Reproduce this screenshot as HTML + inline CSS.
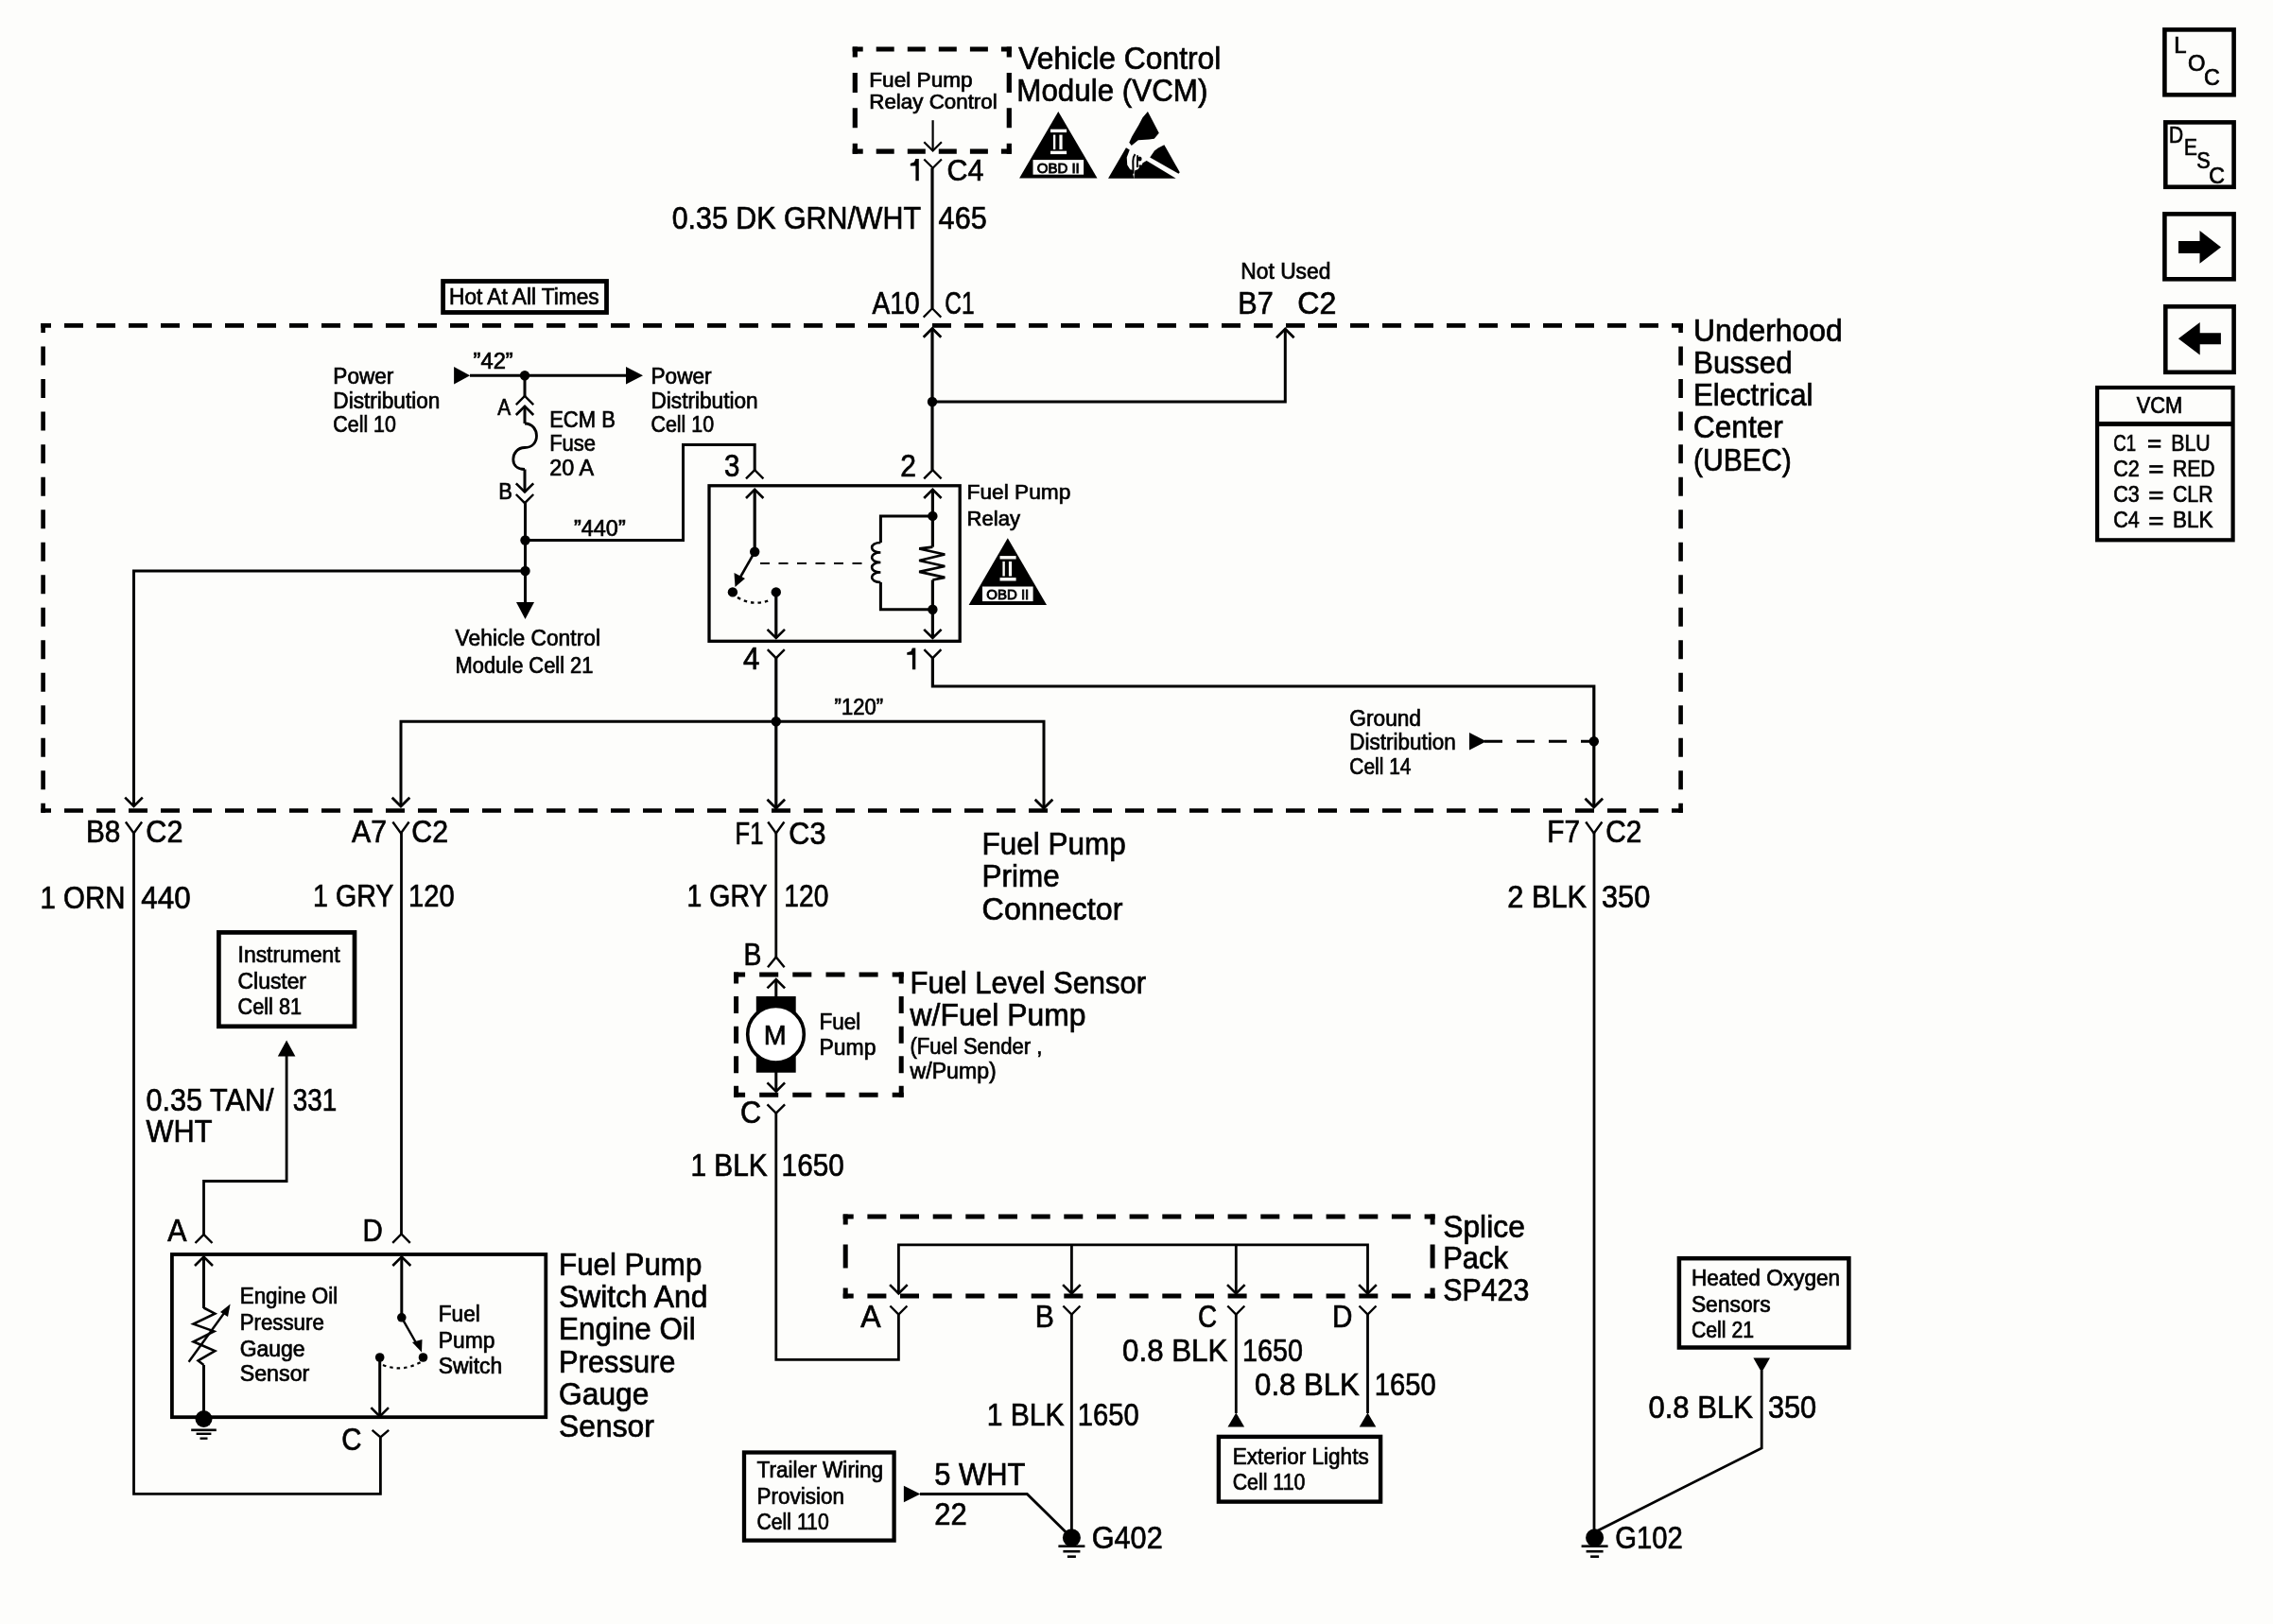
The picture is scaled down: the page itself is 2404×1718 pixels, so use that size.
<!DOCTYPE html>
<html><head><meta charset="utf-8"><style>
html,body{margin:0;padding:0;background:#fdfdfb;}
svg{display:block;will-change:transform;}
svg line,svg polyline,svg path,svg rect,svg circle{stroke:#000;fill:none;stroke-linecap:butt;stroke-linejoin:miter;}
svg .fl{fill:#000;stroke:none;}
svg .wf{fill:#fff;}
svg .wh{fill:#fdfdfb;stroke:none;}
svg text{font-family:"Liberation Sans",sans-serif;fill:#000;stroke:#000;stroke-width:0.7px;}
</style></head><body>
<svg width="2404" height="1718" viewBox="0 0 2404 1718">
<path d="M901.7,52H912.7 M1058.9,52H1069.9 M926.7,52H945.7 M959.8,52H978.8 M992.8,52H1011.8 M1025.9,52H1044.9" stroke-width="5.2" />
<path d="M901.7,160.2H912.7 M1058.9,160.2H1069.9 M926.7,160.2H945.7 M959.8,160.2H978.8 M992.8,160.2H1011.8 M1025.9,160.2H1044.9" stroke-width="5.2" />
<path d="M904.3,49.4V60.4 M904.3,151.8V162.8 M904.3,76.9V97.9 M904.3,114.3V135.3" stroke-width="5.2" />
<path d="M1067.3,49.4V60.4 M1067.3,151.8V162.8 M1067.3,76.9V97.9 M1067.3,114.3V135.3" stroke-width="5.2" />
<text x="919.30" y="92.2" font-size="21.5" textLength="109.31" lengthAdjust="spacingAndGlyphs">Fuel Pump</text>
<text x="919.30" y="115.4" font-size="21.5" textLength="135.40" lengthAdjust="spacingAndGlyphs">Relay Control</text>
<line x1="986.6" y1="127.2" x2="986.6" y2="159.5" stroke-width="2.2"/>
<polyline points="977.3,150.2 986.6,159.5 995.9,150.2" stroke-width="2.2"/>
<polyline points="977.3,168.5 986.6,177.8 995.9,168.5" stroke-width="2.2"/>
<text x="1077.30" y="72.7" font-size="32.3" textLength="214.10" lengthAdjust="spacingAndGlyphs">Vehicle Control</text>
<text x="1075.30" y="106.7" font-size="32.3" textLength="202.10" lengthAdjust="spacingAndGlyphs">Module (VCM)</text>
<polygon class="fl" points="968.4,168.1 971.8,168.1 971.8,191.2 968.4,191.2 968.4,175.5 962.8,175.5 962.8,173 966.9,171.6"/>
<text x="1001.60" y="191.2" font-size="32" textLength="38.91" lengthAdjust="spacingAndGlyphs">C4</text>
<polygon class="fl" points="1119.3,117.9 1078.1,188.6 1160.5,188.6"/>
<rect class="wh" x="1111" y="136.7" width="17.1" height="3.4"/>
<rect class="wh" x="1111" y="159.7" width="17.1" height="3.4"/>
<rect class="wh" x="1113.9" y="142.6" width="2.4" height="15.5"/>
<rect class="wh" x="1120.4" y="142.6" width="3.2" height="15.5"/>
<rect class="wh" x="1092.5" y="169.1" width="53.6" height="15.6"/>
<text x="1119.3" y="182.8" font-size="15.5" text-anchor="middle" textLength="45" lengthAdjust="spacingAndGlyphs" style="stroke-width:0.9px">OBD II</text>
<g transform="translate(1168,112) scale(0.05048)">
<polygon class="fl" points="910,120 1145,570 1045,690 940,705 710,720 570,830 520,770 580,640 720,400 800,250"/>
<polygon class="fl" points="1255,815 1580,1390 1555,1420 955,1080 1050,940 1130,880"/>
<polygon class="fl" points="80,1520 455,875 530,920 470,1080 480,1240 540,1330 590,1340 600,1430 620,1520"/>
<polygon class="fl" points="620,1520 640,1350 700,1330 730,1300 720,1240 790,1240 800,1200 885,1150 1500,1520"/>
<path d="M645,1015 C610,1060 600,1100 600,1160 L605,1420" stroke-width="40"/>
<path d="M695,1035 L690,1290" stroke-width="36"/>
<ellipse class="fl" cx="740" cy="1110" rx="45" ry="50"/>
</g>
<line x1="986" y1="177.8" x2="986" y2="326.3" stroke-width="3.2"/>
<text x="710.70" y="242.3" font-size="33.2" textLength="263.30" lengthAdjust="spacingAndGlyphs">0.35 DK GRN/WHT</text>
<text x="992.60" y="242.3" font-size="33.2" textLength="51.11" lengthAdjust="spacingAndGlyphs">465</text>
<polyline points="976.7,335.6 986,326.3 995.3,335.6" stroke-width="2.2"/>
<text x="922.50" y="331.5" font-size="32.3" textLength="50.01" lengthAdjust="spacingAndGlyphs">A10</text>
<text x="999.30" y="331.5" font-size="32.3" textLength="31.31" lengthAdjust="spacingAndGlyphs">C1</text>
<text x="1312.30" y="295" font-size="23.3" textLength="95.11" lengthAdjust="spacingAndGlyphs">Not Used</text>
<text x="1309.30" y="331.7" font-size="32.3" textLength="37.40" lengthAdjust="spacingAndGlyphs">B7</text>
<text x="1372.30" y="331.7" font-size="32.3" textLength="41.11" lengthAdjust="spacingAndGlyphs">C2</text>
<rect x="468.6" y="297.5" width="172.9" height="33" stroke-width="4.8"/>
<text x="475.10" y="321.7" font-size="23.3" textLength="158.51" lengthAdjust="spacingAndGlyphs">Hot At All Times</text>
<path d="M43.3,344.4H54 M68,344.4H88 M102,344.4H122 M136,344.4H156 M170,344.4H190 M204,344.4H224 M238,344.4H258 M272,344.4H292 M306,344.4H326 M340,344.4H360 M374,344.4H394 M408,344.4H428 M442,344.4H462 M476,344.4H496 M510,344.4H530 M544,344.4H564 M578,344.4H598 M612,344.4H632 M646,344.4H666 M680,344.4H700 M714,344.4H734 M748,344.4H768 M782,344.4H802 M816,344.4H836 M850,344.4H870 M884,344.4H904 M918,344.4H938 M952,344.4H972 M986,344.4H1006 M1020,344.4H1040 M1054,344.4H1074 M1088,344.4H1108 M1122,344.4H1142 M1156,344.4H1176 M1190,344.4H1210 M1224,344.4H1244 M1258,344.4H1278 M1292,344.4H1312 M1326,344.4H1346 M1360,344.4H1380 M1394,344.4H1414 M1428,344.4H1448 M1462,344.4H1482 M1496,344.4H1516 M1530,344.4H1550 M1564,344.4H1584 M1598,344.4H1618 M1632,344.4H1652 M1666,344.4H1686 M1700,344.4H1720 M1734,344.4H1754 M1768,344.4H1779.9" stroke-width="4.6" />
<path d="M43.3,857.5H54 M68,857.5H88 M102,857.5H122 M136,857.5H156 M170,857.5H190 M204,857.5H224 M238,857.5H258 M272,857.5H292 M306,857.5H326 M340,857.5H360 M374,857.5H394 M408,857.5H428 M442,857.5H462 M476,857.5H496 M510,857.5H530 M544,857.5H564 M578,857.5H598 M612,857.5H632 M646,857.5H666 M680,857.5H700 M714,857.5H734 M748,857.5H768 M782,857.5H802 M816,857.5H836 M850,857.5H870 M884,857.5H904 M918,857.5H938 M952,857.5H972 M986,857.5H1006 M1020,857.5H1040 M1054,857.5H1074 M1088,857.5H1108 M1122,857.5H1142 M1156,857.5H1176 M1190,857.5H1210 M1224,857.5H1244 M1258,857.5H1278 M1292,857.5H1312 M1326,857.5H1346 M1360,857.5H1380 M1394,857.5H1414 M1428,857.5H1448 M1462,857.5H1482 M1496,857.5H1516 M1530,857.5H1550 M1564,857.5H1584 M1598,857.5H1618 M1632,857.5H1652 M1666,857.5H1686 M1700,857.5H1720 M1734,857.5H1754 M1768,857.5H1779.9" stroke-width="4.6" />
<path d="M45.6,342.1V352.1 M45.6,849.8V859.8 M45.6,366.6V386.6 M45.6,401.1V421.1 M45.6,435.6V455.6 M45.6,470.2V490.2 M45.6,504.7V524.7 M45.6,539.2V559.2 M45.6,573.7V593.7 M45.6,608.2V628.2 M45.6,642.7V662.7 M45.6,677.2V697.2 M45.6,711.7V731.7 M45.6,746.3V766.3 M45.6,780.8V800.8 M45.6,815.3V835.3" stroke-width="4.6" />
<path d="M1777.6,342.1V352.1 M1777.6,849.8V859.8 M1777.6,366.6V386.6 M1777.6,401.1V421.1 M1777.6,435.6V455.6 M1777.6,470.2V490.2 M1777.6,504.7V524.7 M1777.6,539.2V559.2 M1777.6,573.7V593.7 M1777.6,608.2V628.2 M1777.6,642.7V662.7 M1777.6,677.2V697.2 M1777.6,711.7V731.7 M1777.6,746.3V766.3 M1777.6,780.8V800.8 M1777.6,815.3V835.3" stroke-width="4.6" />
<text x="1791.00" y="360.7" font-size="32.3" textLength="157.71" lengthAdjust="spacingAndGlyphs">Underhood</text>
<text x="1791.00" y="395" font-size="32.3" textLength="104.71" lengthAdjust="spacingAndGlyphs">Bussed</text>
<text x="1791.00" y="429.3" font-size="32.3" textLength="126.39" lengthAdjust="spacingAndGlyphs">Electrical</text>
<text x="1791.00" y="463.3" font-size="32.3" textLength="94.72" lengthAdjust="spacingAndGlyphs">Center</text>
<text x="1791.00" y="497.7" font-size="32.3" textLength="103.71" lengthAdjust="spacingAndGlyphs">(UBEC)</text>
<text x="352.30" y="406.2" font-size="23.3" textLength="64.09" lengthAdjust="spacingAndGlyphs">Power</text>
<text x="352.30" y="431.5" font-size="23.3" textLength="113.10" lengthAdjust="spacingAndGlyphs">Distribution</text>
<text x="352.30" y="457.3" font-size="23.3" textLength="66.60" lengthAdjust="spacingAndGlyphs">Cell 10</text>
<text x="688.50" y="406.2" font-size="23.3" textLength="64.09" lengthAdjust="spacingAndGlyphs">Power</text>
<text x="688.50" y="431.5" font-size="23.3" textLength="113.10" lengthAdjust="spacingAndGlyphs">Distribution</text>
<text x="688.50" y="457.3" font-size="23.3" textLength="66.60" lengthAdjust="spacingAndGlyphs">Cell 10</text>
<polygon class="fl" points="480.1,388.1 480.1,406.5 497.1,397.3"/>
<line x1="497" y1="397.3" x2="665" y2="397.3" stroke-width="3"/>
<polygon class="fl" points="662,388.1 662,406.5 680,397.3"/>
<circle class="fl" cx="555" cy="397.3" r="5.2"/>
<text x="500.60" y="390" font-size="23.3" textLength="42.11" lengthAdjust="spacingAndGlyphs">”42”</text>
<line x1="555" y1="397.3" x2="555" y2="419" stroke-width="3"/>
<polyline points="545.8,428.2 555,419 564.2,428.2" stroke-width="2.4"/>
<polyline points="545.8,439 555,429.8 564.2,439" stroke-width="2.6"/>
<line x1="555" y1="429.8" x2="555" y2="448" stroke-width="3"/>
<path d="M555,448 C563.5,448 567.5,455 567.5,461 C567.5,468 563,473.5 555,473.5 C547,473.5 542.8,480 542.8,486 C542.8,492 547,496.5 555,496.5" stroke-width="2.8" />
<line x1="555" y1="496.5" x2="555" y2="520.5" stroke-width="3"/>
<polyline points="545.8,511.3 555,520.5 564.2,511.3" stroke-width="2.6"/>
<polyline points="545.8,523 555,532.2 564.2,523" stroke-width="2.4"/>
<text x="526.30" y="439" font-size="23" textLength="13.90" lengthAdjust="spacingAndGlyphs">A</text>
<text x="527.20" y="528" font-size="23" textLength="14.70" lengthAdjust="spacingAndGlyphs">B</text>
<text x="581.20" y="451.5" font-size="23.3" textLength="69.60" lengthAdjust="spacingAndGlyphs">ECM B</text>
<text x="581.20" y="477.2" font-size="23.3" textLength="48.80" lengthAdjust="spacingAndGlyphs">Fuse</text>
<text x="581.20" y="503" font-size="23.3" textLength="46.80" lengthAdjust="spacingAndGlyphs">20 A</text>
<line x1="555.5" y1="530.5" x2="555.5" y2="640" stroke-width="3"/>
<polygon class="fl" points="546,637 565,637 555.5,655"/>
<circle class="fl" cx="555.5" cy="571.5" r="5.2"/>
<circle class="fl" cx="555.5" cy="604" r="5.2"/>
<polyline points="555.5,571.5 722.5,571.5 722.5,470.4 798.2,470.4 798.2,497.1" stroke-width="3"/>
<text x="607.00" y="567" font-size="23.3" textLength="54.69" lengthAdjust="spacingAndGlyphs">”440”</text>
<polyline points="555.5,604 141.5,604 141.5,853" stroke-width="3"/>
<polyline points="132.2,843.7 141.5,853 150.8,843.7" stroke-width="2.6"/>
<text x="481.60" y="683.3" font-size="23.3" textLength="153.40" lengthAdjust="spacingAndGlyphs">Vehicle Control</text>
<text x="481.60" y="711.7" font-size="23.3" textLength="145.81" lengthAdjust="spacingAndGlyphs">Module Cell 21</text>
<line x1="986" y1="347.4" x2="986" y2="497.1" stroke-width="3.2"/>
<polyline points="976.7,356.7 986,347.4 995.3,356.7" stroke-width="2.8"/>
<circle class="fl" cx="986" cy="425" r="5.2"/>
<polyline points="986,425 1359.3,425 1359.3,348" stroke-width="3"/>
<polyline points="1350,357.3 1359.3,348 1368.6,357.3" stroke-width="2.8"/>
<rect x="750" y="513.8" width="265.2" height="164.5" stroke-width="3.3"/>
<polyline points="789,506.3 798.2,497.1 807.4,506.3" stroke-width="2.4"/>
<polyline points="977.2,506.3 986.4,497.1 995.6,506.3" stroke-width="2.4"/>
<text x="766.00" y="504" font-size="32.3" textLength="16.40" lengthAdjust="spacingAndGlyphs">3</text>
<text x="952.30" y="504" font-size="32.3" textLength="16.70" lengthAdjust="spacingAndGlyphs">2</text>
<line x1="798.2" y1="517.8" x2="798.2" y2="583.8" stroke-width="3.2"/>
<polyline points="789,527 798.2,517.8 807.4,527" stroke-width="2.6"/>
<circle class="fl" cx="798.2" cy="583.8" r="5.2"/>
<line x1="798.2" y1="583.8" x2="781" y2="614" stroke-width="2.6"/>
<polygon class="fl" points="777.5,621 776.5,606 788,612"/>
<circle class="fl" cx="774.9" cy="626.4" r="5.2"/>
<path d="M780,632 Q797,642 815,634.5" stroke-width="2.4" stroke-dasharray="3.5 4"/>
<circle class="fl" cx="820.8" cy="626.4" r="5.2"/>
<line x1="820.8" y1="626.4" x2="820.8" y2="675" stroke-width="3.2"/>
<polyline points="811.6,665.8 820.8,675 830,665.8" stroke-width="2.6"/>
<path d="M804,596 H912" stroke-width="2.2" stroke-dasharray="10 9.5"/>
<polyline points="986.4,545.9 931.4,545.9 931.4,574" stroke-width="3"/>
<polyline points="931.4,616 931.4,644.8 986.4,644.8" stroke-width="3"/>
<path d="M931.4,574 C919,574 919,584.5 931.4,584.5 C919,584.5 919,595 931.4,595 C919,595 919,605.5 931.4,605.5 C919,605.5 919,616 931.4,616" stroke-width="2.6" />
<circle class="fl" cx="986.4" cy="545.9" r="5.2"/>
<circle class="fl" cx="986.4" cy="644.8" r="5.2"/>
<line x1="986.4" y1="517.8" x2="986.4" y2="578.6" stroke-width="3.2"/>
<polyline points="986.4,578.6 972.2,580.5 999.3,586.5 972.2,593 999.3,599 972.2,604.8 999.3,610.8 986.4,613.5" stroke-width="2.8"/>
<line x1="986.4" y1="613.5" x2="986.4" y2="675" stroke-width="3.2"/>
<polyline points="977.2,527 986.4,517.8 995.6,527" stroke-width="2.6"/>
<polyline points="977.2,665.8 986.4,675 995.6,665.8" stroke-width="2.6"/>
<polyline points="811.8,687.2 820.8,696.2 829.8,687.2" stroke-width="2.4"/>
<polyline points="977.4,687.2 986.4,696.2 995.4,687.2" stroke-width="2.4"/>
<text x="786.00" y="708.3" font-size="32.3" textLength="17.40" lengthAdjust="spacingAndGlyphs">4</text>
<polygon class="fl" points="964.9,685.5 968.3,685.5 968.3,708.3 964.9,708.3 964.9,692.8 959.3,692.8 959.3,690.3 963.4,688.9"/>
<text x="1022.60" y="527.8" font-size="22.6" textLength="109.81" lengthAdjust="spacingAndGlyphs">Fuel Pump</text>
<text x="1022.60" y="555.8" font-size="22.6" textLength="56.39" lengthAdjust="spacingAndGlyphs">Relay</text>
<polygon class="fl" points="1065.8,569.3 1024.6,640 1107,640"/>
<rect class="wh" x="1057.5" y="588.1" width="17.1" height="3.4"/>
<rect class="wh" x="1057.5" y="611.1" width="17.1" height="3.4"/>
<rect class="wh" x="1060.4" y="594" width="2.4" height="15.5"/>
<rect class="wh" x="1066.9" y="594" width="3.2" height="15.5"/>
<rect class="wh" x="1039" y="620.5" width="53.6" height="15.6"/>
<text x="1065.8" y="634.2" font-size="15.5" text-anchor="middle" textLength="45" lengthAdjust="spacingAndGlyphs" style="stroke-width:0.9px">OBD II</text>
<line x1="820.8" y1="696" x2="820.8" y2="855" stroke-width="3.2"/>
<polyline points="811.5,845.7 820.8,855 830.1,845.7" stroke-width="2.8"/>
<circle class="fl" cx="820.8" cy="763.3" r="5.2"/>
<polyline points="424,853 424,763.3 1104,763.3 1104,855" stroke-width="3"/>
<polyline points="414.7,843.7 424,853 433.3,843.7" stroke-width="2.8"/>
<polyline points="1094.7,845.7 1104,855 1113.3,845.7" stroke-width="2.8"/>
<text x="882.60" y="756" font-size="23.3" textLength="51.39" lengthAdjust="spacingAndGlyphs">”120”</text>
<polyline points="986.4,696 986.4,726 1685.8,726 1685.8,854" stroke-width="3.2"/>
<polyline points="1676.5,844.7 1685.8,854 1695.1,844.7" stroke-width="2.8"/>
<path d="M1570,784.2 H1685.8" stroke-width="3" stroke-dasharray="19 15"/>
<polygon class="fl" points="1554,775 1554,793.4 1572,784.2"/>
<circle class="fl" cx="1685.8" cy="784.2" r="5.2"/>
<text x="1427.30" y="767.5" font-size="23.3" textLength="75.71" lengthAdjust="spacingAndGlyphs">Ground</text>
<text x="1427.30" y="792.6" font-size="23.3" textLength="112.40" lengthAdjust="spacingAndGlyphs">Distribution</text>
<text x="1427.30" y="818.5" font-size="23.3" textLength="65.20" lengthAdjust="spacingAndGlyphs">Cell 14</text>
<polyline points="132.9,869.5 141.5,881.5 150.1,869.5" stroke-width="2.4"/>
<text x="91.00" y="891" font-size="32.3" textLength="36.40" lengthAdjust="spacingAndGlyphs">B8</text>
<text x="154.30" y="891" font-size="32.3" textLength="39.11" lengthAdjust="spacingAndGlyphs">C2</text>
<polyline points="415.4,869.5 424,881.5 432.6,869.5" stroke-width="2.4"/>
<text x="372.00" y="891" font-size="32.3" textLength="37.00" lengthAdjust="spacingAndGlyphs">A7</text>
<text x="435.30" y="891" font-size="32.3" textLength="38.71" lengthAdjust="spacingAndGlyphs">C2</text>
<polyline points="812.2,869.5 820.8,881.5 829.4,869.5" stroke-width="2.4"/>
<text x="777.60" y="892.7" font-size="32.3" textLength="29.80" lengthAdjust="spacingAndGlyphs">F1</text>
<text x="834.30" y="892.7" font-size="32.3" textLength="39.11" lengthAdjust="spacingAndGlyphs">C3</text>
<polyline points="1677.2,869.5 1685.8,881.5 1694.4,869.5" stroke-width="2.4"/>
<text x="1636.30" y="891.3" font-size="32.3" textLength="34.70" lengthAdjust="spacingAndGlyphs">F7</text>
<text x="1698.30" y="891.3" font-size="32.3" textLength="38.11" lengthAdjust="spacingAndGlyphs">C2</text>
<text x="42.60" y="960.7" font-size="33.2" textLength="89.80" lengthAdjust="spacingAndGlyphs">1 ORN</text>
<text x="149.30" y="960.7" font-size="33.2" textLength="52.41" lengthAdjust="spacingAndGlyphs">440</text>
<text x="331.00" y="959.3" font-size="33.2" textLength="85.40" lengthAdjust="spacingAndGlyphs">1 GRY</text>
<text x="432.00" y="959.3" font-size="33.2" textLength="48.71" lengthAdjust="spacingAndGlyphs">120</text>
<text x="726.60" y="959.3" font-size="33.2" textLength="84.80" lengthAdjust="spacingAndGlyphs">1 GRY</text>
<text x="829.30" y="959.3" font-size="33.2" textLength="47.11" lengthAdjust="spacingAndGlyphs">120</text>
<text x="1594.30" y="960.4" font-size="33.2" textLength="83.80" lengthAdjust="spacingAndGlyphs">2 BLK</text>
<text x="1694.00" y="960.4" font-size="33.2" textLength="51.31" lengthAdjust="spacingAndGlyphs">350</text>
<text x="1038.60" y="904" font-size="32.3" textLength="152.12" lengthAdjust="spacingAndGlyphs">Fuel Pump</text>
<text x="1038.60" y="938.3" font-size="32.3" textLength="82.11" lengthAdjust="spacingAndGlyphs">Prime</text>
<text x="1038.60" y="972.7" font-size="32.3" textLength="148.79" lengthAdjust="spacingAndGlyphs">Connector</text>
<polyline points="141.5,881 141.5,1580.4 402.4,1580.4 402.4,1520.5" stroke-width="2.8"/>
<line x1="424.5" y1="881" x2="424.5" y2="1305.5" stroke-width="2.8"/>
<line x1="820.8" y1="881" x2="820.8" y2="1012.5" stroke-width="2.8"/>
<line x1="1686" y1="881" x2="1686" y2="1626.7" stroke-width="2.8"/>
<rect x="231.4" y="986.4" width="143.6" height="99.4" stroke-width="4.7"/>
<text x="251.60" y="1018.3" font-size="23.3" textLength="108.10" lengthAdjust="spacingAndGlyphs">Instrument</text>
<text x="251.60" y="1045.7" font-size="23.3" textLength="72.39" lengthAdjust="spacingAndGlyphs">Cluster</text>
<text x="251.60" y="1073" font-size="23.3" textLength="67.40" lengthAdjust="spacingAndGlyphs">Cell 81</text>
<polygon class="fl" points="293.8,1117.4 312.4,1117.4 303.1,1100.4"/>
<polyline points="303.1,1117 303.1,1249.5 215.5,1249.5 215.5,1306" stroke-width="2.8"/>
<text x="154.50" y="1174.8" font-size="33.2" textLength="134.89" lengthAdjust="spacingAndGlyphs">0.35 TAN/</text>
<text x="154.50" y="1208" font-size="33.2" textLength="69.90" lengthAdjust="spacingAndGlyphs">WHT</text>
<text x="309.70" y="1174.8" font-size="33.2" textLength="46.51" lengthAdjust="spacingAndGlyphs">331</text>
<rect x="181.9" y="1327" width="395.4" height="172.2" stroke-width="3.8"/>
<polyline points="206.5,1315 215.5,1306 224.5,1315" stroke-width="2.4"/>
<polyline points="415.2,1314.8 424.5,1305.5 433.8,1314.8" stroke-width="2.4"/>
<text x="177.20" y="1312.6" font-size="32.3" textLength="20.20" lengthAdjust="spacingAndGlyphs">A</text>
<text x="383.60" y="1312.6" font-size="32.3" textLength="21.31" lengthAdjust="spacingAndGlyphs">D</text>
<line x1="215.5" y1="1329.5" x2="215.5" y2="1384" stroke-width="3"/>
<polyline points="206,1339 215.5,1329.5 225,1339" stroke-width="2.6"/>
<polyline points="215.5,1383.5 227.3,1389.7 204.6,1400.6 226.3,1408.4 204.6,1419.3 227.3,1429.1 209.6,1439.5 215.5,1444" stroke-width="2.6"/>
<line x1="215.5" y1="1444" x2="215.5" y2="1499" stroke-width="3"/>
<line x1="199.6" y1="1440.7" x2="240" y2="1385" stroke-width="2.4"/>
<polygon class="fl" points="243.6,1379.4 233,1388 241,1393"/>
<circle class="fl" cx="215.5" cy="1501" r="9"/>
<line x1="202.2" y1="1512.8" x2="228.8" y2="1512.8" stroke-width="2.6"/>
<line x1="207.6" y1="1516.8" x2="223.4" y2="1516.8" stroke-width="2.4"/>
<line x1="211.5" y1="1521.7" x2="219.5" y2="1521.7" stroke-width="2.4"/>
<text x="253.70" y="1379.4" font-size="23.3" textLength="103.50" lengthAdjust="spacingAndGlyphs">Engine Oil</text>
<text x="253.70" y="1407.2" font-size="23.3" textLength="89.09" lengthAdjust="spacingAndGlyphs">Pressure</text>
<text x="253.70" y="1435.3" font-size="23.3" textLength="68.91" lengthAdjust="spacingAndGlyphs">Gauge</text>
<text x="253.70" y="1461.3" font-size="23.3" textLength="73.61" lengthAdjust="spacingAndGlyphs">Sensor</text>
<line x1="424.8" y1="1329.5" x2="424.8" y2="1393.8" stroke-width="3"/>
<polyline points="415.3,1339 424.8,1329.5 434.3,1339" stroke-width="2.6"/>
<circle class="fl" cx="424.8" cy="1393.8" r="4.8"/>
<line x1="424.8" y1="1393.8" x2="442" y2="1424" stroke-width="2.4"/>
<polygon class="fl" points="446,1430.5 436,1420 446.5,1417"/>
<circle class="fl" cx="447.5" cy="1436" r="4.8"/>
<circle class="fl" cx="401.7" cy="1436" r="4.8"/>
<path d="M405,1444 Q425,1452 445,1441" stroke-width="2.2" stroke-dasharray="3.5 4"/>
<line x1="401.7" y1="1436" x2="401.7" y2="1498.5" stroke-width="3"/>
<polyline points="392.4,1489.2 401.7,1498.5 411,1489.2" stroke-width="2.6"/>
<text x="463.80" y="1398.1" font-size="23.3" textLength="43.91" lengthAdjust="spacingAndGlyphs">Fuel</text>
<text x="463.80" y="1426.3" font-size="23.3" textLength="59.51" lengthAdjust="spacingAndGlyphs">Pump</text>
<text x="463.80" y="1453.4" font-size="23.3" textLength="67.41" lengthAdjust="spacingAndGlyphs">Switch</text>
<polyline points="393.6,1512.8 402.4,1520.5 411.2,1512.8" stroke-width="2.4"/>
<text x="361.30" y="1533.5" font-size="32.3" textLength="21.21" lengthAdjust="spacingAndGlyphs">C</text>
<text x="591.10" y="1348.7" font-size="32.3" textLength="151.22" lengthAdjust="spacingAndGlyphs">Fuel Pump</text>
<text x="591.10" y="1383" font-size="32.3" textLength="157.31" lengthAdjust="spacingAndGlyphs">Switch And</text>
<text x="591.10" y="1417.3" font-size="32.3" textLength="144.69" lengthAdjust="spacingAndGlyphs">Engine Oil</text>
<text x="591.10" y="1451.6" font-size="32.3" textLength="123.38" lengthAdjust="spacingAndGlyphs">Pressure</text>
<text x="591.10" y="1485.8" font-size="32.3" textLength="95.31" lengthAdjust="spacingAndGlyphs">Gauge</text>
<text x="591.10" y="1520.1" font-size="32.3" textLength="100.72" lengthAdjust="spacingAndGlyphs">Sensor</text>
<polyline points="812,1023.2 820.8,1012.5 829.6,1023.2" stroke-width="2.4"/>
<text x="786.60" y="1021.2" font-size="32.3" textLength="18.90" lengthAdjust="spacingAndGlyphs">B</text>
<path d="M776.1,1031.1H788.1 M943.7,1031.1H955.7 M803.2,1031.1H823.2 M838.3,1031.1H858.3 M873.5,1031.1H893.5 M908.6,1031.1H928.6" stroke-width="5" />
<path d="M776.1,1158.3H788.1 M943.7,1158.3H955.7 M803.2,1158.3H823.2 M838.3,1158.3H858.3 M873.5,1158.3H893.5 M908.6,1158.3H928.6" stroke-width="5" />
<path d="M778.6,1028.6V1040.6 M778.6,1148.8V1160.8 M778.6,1054.1V1072.1 M778.6,1085.7V1103.7 M778.6,1117.2V1135.2" stroke-width="5" />
<path d="M953.2,1028.6V1040.6 M953.2,1148.8V1160.8 M953.2,1054.1V1072.1 M953.2,1085.7V1103.7 M953.2,1117.2V1135.2" stroke-width="5" />
<line x1="820.8" y1="1036" x2="820.8" y2="1055" stroke-width="3"/>
<polyline points="811.5,1045.3 820.8,1036 830.1,1045.3" stroke-width="2.6"/>
<rect class="fl" x="799.8" y="1054" width="41.9" height="80.7"/>
<circle class="wf" cx="820.5" cy="1094.2" r="29.8" stroke-width="3.6"/>
<text x="807.80" y="1104.7" font-size="30" textLength="23.90" lengthAdjust="spacingAndGlyphs">M</text>
<line x1="820.8" y1="1134" x2="820.8" y2="1154.6" stroke-width="3"/>
<polyline points="811.5,1145.3 820.8,1154.6 830.1,1145.3" stroke-width="2.6"/>
<text x="866.50" y="1088.5" font-size="23.3" textLength="43.81" lengthAdjust="spacingAndGlyphs">Fuel</text>
<text x="866.50" y="1116" font-size="23.3" textLength="60.01" lengthAdjust="spacingAndGlyphs">Pump</text>
<text x="962.50" y="1051" font-size="32.3" textLength="249.60" lengthAdjust="spacingAndGlyphs">Fuel Level Sensor</text>
<text x="962.56" y="1084.8" font-size="32.3" textLength="185.95" lengthAdjust="spacingAndGlyphs">w/Fuel Pump</text>
<text x="962.50" y="1114.7" font-size="23.3" textLength="139.81" lengthAdjust="spacingAndGlyphs">(Fuel Sender ,</text>
<text x="962.55" y="1140.9" font-size="23.3" textLength="91.16" lengthAdjust="spacingAndGlyphs">w/Pump)</text>
<polyline points="811.5,1168.3 820.8,1177.6 830.1,1168.3" stroke-width="2.4"/>
<text x="782.90" y="1188.3" font-size="32.3" textLength="22.11" lengthAdjust="spacingAndGlyphs">C</text>
<text x="730.50" y="1243.9" font-size="33.2" textLength="81.20" lengthAdjust="spacingAndGlyphs">1 BLK</text>
<text x="826.60" y="1243.9" font-size="33.2" textLength="66.19" lengthAdjust="spacingAndGlyphs">1650</text>
<polyline points="820.8,1177 820.8,1438.3 950.4,1438.3 950.4,1390" stroke-width="2.8"/>
<path d="M891.7,1287H902.7 M1506.6,1287H1517.6 M917.4,1287H937.4 M952,1287H972 M986.7,1287H1006.7 M1021.3,1287H1041.3 M1056,1287H1076 M1090.7,1287H1110.7 M1125.3,1287H1145.3 M1160,1287H1180 M1194.6,1287H1214.6 M1229.3,1287H1249.3 M1264,1287H1284 M1298.6,1287H1318.6 M1333.3,1287H1353.3 M1368,1287H1388 M1402.6,1287H1422.6 M1437.3,1287H1457.3 M1471.9,1287H1491.9" stroke-width="5" />
<path d="M891.7,1371H902.7 M1506.6,1371H1517.6 M917.4,1371H937.4 M952,1371H972 M986.7,1371H1006.7 M1021.3,1371H1041.3 M1056,1371H1076 M1090.7,1371H1110.7 M1125.3,1371H1145.3 M1160,1371H1180 M1194.6,1371H1214.6 M1229.3,1371H1249.3 M1264,1371H1284 M1298.6,1371H1318.6 M1333.3,1371H1353.3 M1368,1371H1388 M1402.6,1371H1422.6 M1437.3,1371H1457.3 M1471.9,1371H1491.9" stroke-width="5" />
<path d="M894.2,1284.5V1295.5 M894.2,1362.5V1373.5 M894.2,1316.5V1341.5" stroke-width="5" />
<path d="M1515.1,1284.5V1295.5 M1515.1,1362.5V1373.5 M1515.1,1316.5V1341.5" stroke-width="5" />
<text x="1526.20" y="1308.6" font-size="32.3" textLength="86.69" lengthAdjust="spacingAndGlyphs">Splice</text>
<text x="1526.20" y="1342.3" font-size="32.3" textLength="68.64" lengthAdjust="spacingAndGlyphs">Pack</text>
<text x="1526.20" y="1376" font-size="32.3" textLength="91.11" lengthAdjust="spacingAndGlyphs">SP423</text>
<polyline points="950.4,1368.5 950.4,1316.9 1446.5,1316.9 1446.5,1368.5" stroke-width="2.8"/>
<line x1="1133.4" y1="1316.9" x2="1133.4" y2="1368.5" stroke-width="2.8"/>
<line x1="1307.3" y1="1316.9" x2="1307.3" y2="1368.5" stroke-width="2.8"/>
<polyline points="941.1,1359.2 950.4,1368.5 959.7,1359.2" stroke-width="2.6"/>
<polyline points="941.4,1381.5 950.4,1390.5 959.4,1381.5" stroke-width="2.4"/>
<text x="910.30" y="1404.2" font-size="32.3" textLength="21.30" lengthAdjust="spacingAndGlyphs">A</text>
<polyline points="1124.1,1359.2 1133.4,1368.5 1142.7,1359.2" stroke-width="2.6"/>
<polyline points="1124.4,1381.5 1133.4,1390.5 1142.4,1381.5" stroke-width="2.4"/>
<text x="1094.80" y="1404.2" font-size="32.3" textLength="20.10" lengthAdjust="spacingAndGlyphs">B</text>
<polyline points="1298,1359.2 1307.3,1368.5 1316.6,1359.2" stroke-width="2.6"/>
<polyline points="1298.3,1381.5 1307.3,1390.5 1316.3,1381.5" stroke-width="2.4"/>
<text x="1267.00" y="1404.2" font-size="32.3" textLength="20.10" lengthAdjust="spacingAndGlyphs">C</text>
<polyline points="1437.2,1359.2 1446.5,1368.5 1455.8,1359.2" stroke-width="2.6"/>
<polyline points="1437.5,1381.5 1446.5,1390.5 1455.5,1381.5" stroke-width="2.4"/>
<text x="1408.90" y="1404.2" font-size="32.3" textLength="21.41" lengthAdjust="spacingAndGlyphs">D</text>
<line x1="1133.4" y1="1390" x2="1133.4" y2="1626.7" stroke-width="2.8"/>
<text x="1043.70" y="1508.2" font-size="33.2" textLength="82.00" lengthAdjust="spacingAndGlyphs">1 BLK</text>
<text x="1139.70" y="1508.2" font-size="33.2" textLength="64.99" lengthAdjust="spacingAndGlyphs">1650</text>
<line x1="1307.3" y1="1390" x2="1307.3" y2="1495" stroke-width="2.8"/>
<polygon class="fl" points="1298.5,1509.5 1316.1,1509.5 1307.3,1494.5"/>
<line x1="1446.5" y1="1390" x2="1446.5" y2="1495" stroke-width="2.8"/>
<polygon class="fl" points="1437.7,1509.5 1455.3,1509.5 1446.5,1494.5"/>
<text x="1187.10" y="1439.6" font-size="33.2" textLength="111.20" lengthAdjust="spacingAndGlyphs">0.8 BLK</text>
<text x="1314.10" y="1439.6" font-size="33.2" textLength="63.79" lengthAdjust="spacingAndGlyphs">1650</text>
<text x="1327.10" y="1475.8" font-size="33.2" textLength="110.60" lengthAdjust="spacingAndGlyphs">0.8 BLK</text>
<text x="1453.80" y="1475.8" font-size="33.2" textLength="64.99" lengthAdjust="spacingAndGlyphs">1650</text>
<rect x="1288.9" y="1519.9" width="171.2" height="68.7" stroke-width="4.4"/>
<text x="1303.70" y="1548.9" font-size="23.3" textLength="143.99" lengthAdjust="spacingAndGlyphs">Exterior Lights</text>
<text x="1303.70" y="1575.5" font-size="23.3" textLength="76.69" lengthAdjust="spacingAndGlyphs">Cell 110</text>
<rect x="787" y="1536.5" width="158.6" height="93.1" stroke-width="4.3"/>
<text x="800.50" y="1563" font-size="23.3" textLength="133.59" lengthAdjust="spacingAndGlyphs">Trailer Wiring</text>
<text x="800.50" y="1590.5" font-size="23.3" textLength="92.40" lengthAdjust="spacingAndGlyphs">Provision</text>
<text x="800.50" y="1618" font-size="23.3" textLength="76.19" lengthAdjust="spacingAndGlyphs">Cell 110</text>
<polygon class="fl" points="955.9,1571.7 955.9,1589.3 973.3,1580.5"/>
<polyline points="973,1580.5 1086.3,1580.5 1130.5,1624" stroke-width="2.8"/>
<text x="988.30" y="1570.6" font-size="33.2" textLength="96.20" lengthAdjust="spacingAndGlyphs">5 WHT</text>
<text x="988.30" y="1613" font-size="33.2" textLength="34.41" lengthAdjust="spacingAndGlyphs">22</text>
<circle class="fl" cx="1133.4" cy="1626.7" r="9.5"/>
<line x1="1119.4" y1="1635.7" x2="1147.4" y2="1635.7" stroke-width="2.6"/>
<line x1="1124.4" y1="1641.2" x2="1142.4" y2="1641.2" stroke-width="2.6"/>
<line x1="1128.9" y1="1646.7" x2="1137.9" y2="1646.7" stroke-width="2.6"/>
<text x="1154.70" y="1637.9" font-size="33.2" textLength="75.01" lengthAdjust="spacingAndGlyphs">G402</text>
<rect x="1775.9" y="1331.2" width="179.5" height="94.3" stroke-width="4.5"/>
<text x="1788.90" y="1359.8" font-size="23.3" textLength="157.29" lengthAdjust="spacingAndGlyphs">Heated Oxygen</text>
<text x="1788.90" y="1387.7" font-size="23.3" textLength="83.71" lengthAdjust="spacingAndGlyphs">Sensors</text>
<text x="1788.90" y="1414.7" font-size="23.3" textLength="66.20" lengthAdjust="spacingAndGlyphs">Cell 21</text>
<polygon class="fl" points="1854.4,1436.6 1872,1436.6 1863.2,1452.1"/>
<polyline points="1863.2,1450 1863.2,1531.9 1689.8,1619.2" stroke-width="2.8"/>
<text x="1743.50" y="1500" font-size="33.2" textLength="110.40" lengthAdjust="spacingAndGlyphs">0.8 BLK</text>
<text x="1869.90" y="1500" font-size="33.2" textLength="51.31" lengthAdjust="spacingAndGlyphs">350</text>
<circle class="fl" cx="1686.6" cy="1626.7" r="9.5"/>
<line x1="1672.6" y1="1635.7" x2="1700.6" y2="1635.7" stroke-width="2.6"/>
<line x1="1677.6" y1="1641.2" x2="1695.6" y2="1641.2" stroke-width="2.6"/>
<line x1="1682.1" y1="1646.7" x2="1691.1" y2="1646.7" stroke-width="2.6"/>
<text x="1708.30" y="1637.9" font-size="33.2" textLength="71.51" lengthAdjust="spacingAndGlyphs">G102</text>
<rect x="2289.4" y="31.4" width="73.2" height="68.9" stroke-width="4.6"/>
<text x="2299.30" y="56.4" font-size="23.3" textLength="13.30" lengthAdjust="spacingAndGlyphs">L</text>
<text x="2314.00" y="75.3" font-size="23.3" textLength="18.50" lengthAdjust="spacingAndGlyphs">O</text>
<text x="2331.10" y="90" font-size="23.3" textLength="16.80" lengthAdjust="spacingAndGlyphs">C</text>
<rect x="2290.3" y="129.4" width="72.3" height="68.4" stroke-width="4.6"/>
<text x="2294.10" y="150.5" font-size="23.3" textLength="15.10" lengthAdjust="spacingAndGlyphs">D</text>
<text x="2310.10" y="163.6" font-size="23.3" textLength="13.90" lengthAdjust="spacingAndGlyphs">E</text>
<text x="2323.20" y="177.8" font-size="23.3" textLength="14.50" lengthAdjust="spacingAndGlyphs">S</text>
<text x="2336.30" y="193.8" font-size="23.3" textLength="16.70" lengthAdjust="spacingAndGlyphs">C</text>
<rect x="2289.4" y="226.4" width="73.2" height="68.9" stroke-width="4.6"/>
<polygon class="fl" points="2304,255 2326.5,255 2326.5,244 2349,261.5 2326.5,278.8 2326.5,268 2304,268"/>
<rect x="2290.3" y="324.3" width="72.3" height="69.5" stroke-width="4.6"/>
<polygon class="fl" points="2348.9,352.2 2326.7,352.2 2326.7,341 2303.9,358.3 2326.7,375.6 2326.7,364.2 2348.9,364.2"/>
<rect x="2218.1" y="410" width="143.5" height="161.3" stroke-width="4.2"/>
<line x1="2218.1" y1="448.5" x2="2361.6" y2="448.5" stroke-width="5"/>
<text x="2259.70" y="436.6" font-size="23.3" textLength="48.50" lengthAdjust="spacingAndGlyphs">VCM</text>
<text x="2235.30" y="476.6" font-size="23.3" textLength="23.71" lengthAdjust="spacingAndGlyphs">C1</text>
<rect class="fl" x="2272" y="465.1" width="13.300000000000182" height="2.6"/><rect class="fl" x="2272" y="471.1" width="13.300000000000182" height="2.6"/>
<text x="2296.30" y="476.6" font-size="23.3" textLength="41.41" lengthAdjust="spacingAndGlyphs">BLU</text>
<text x="2235.30" y="503.6" font-size="23.3" textLength="27.51" lengthAdjust="spacingAndGlyphs">C2</text>
<rect class="fl" x="2273.2" y="492.1" width="14.400000000000091" height="2.6"/><rect class="fl" x="2273.2" y="498.1" width="14.400000000000091" height="2.6"/>
<text x="2298.00" y="503.6" font-size="23.3" textLength="44.61" lengthAdjust="spacingAndGlyphs">RED</text>
<text x="2235.30" y="531.3" font-size="23.3" textLength="27.51" lengthAdjust="spacingAndGlyphs">C3</text>
<rect class="fl" x="2273.2" y="519.8" width="14.400000000000091" height="2.6"/><rect class="fl" x="2273.2" y="525.8" width="14.400000000000091" height="2.6"/>
<text x="2298.00" y="531.3" font-size="23.3" textLength="42.49" lengthAdjust="spacingAndGlyphs">CLR</text>
<text x="2235.30" y="558.4" font-size="23.3" textLength="27.51" lengthAdjust="spacingAndGlyphs">C4</text>
<rect class="fl" x="2273.2" y="546.9" width="14.400000000000091" height="2.6"/><rect class="fl" x="2273.2" y="552.9" width="14.400000000000091" height="2.6"/>
<text x="2298.00" y="558.4" font-size="23.3" textLength="42.50" lengthAdjust="spacingAndGlyphs">BLK</text>
</svg></body></html>
